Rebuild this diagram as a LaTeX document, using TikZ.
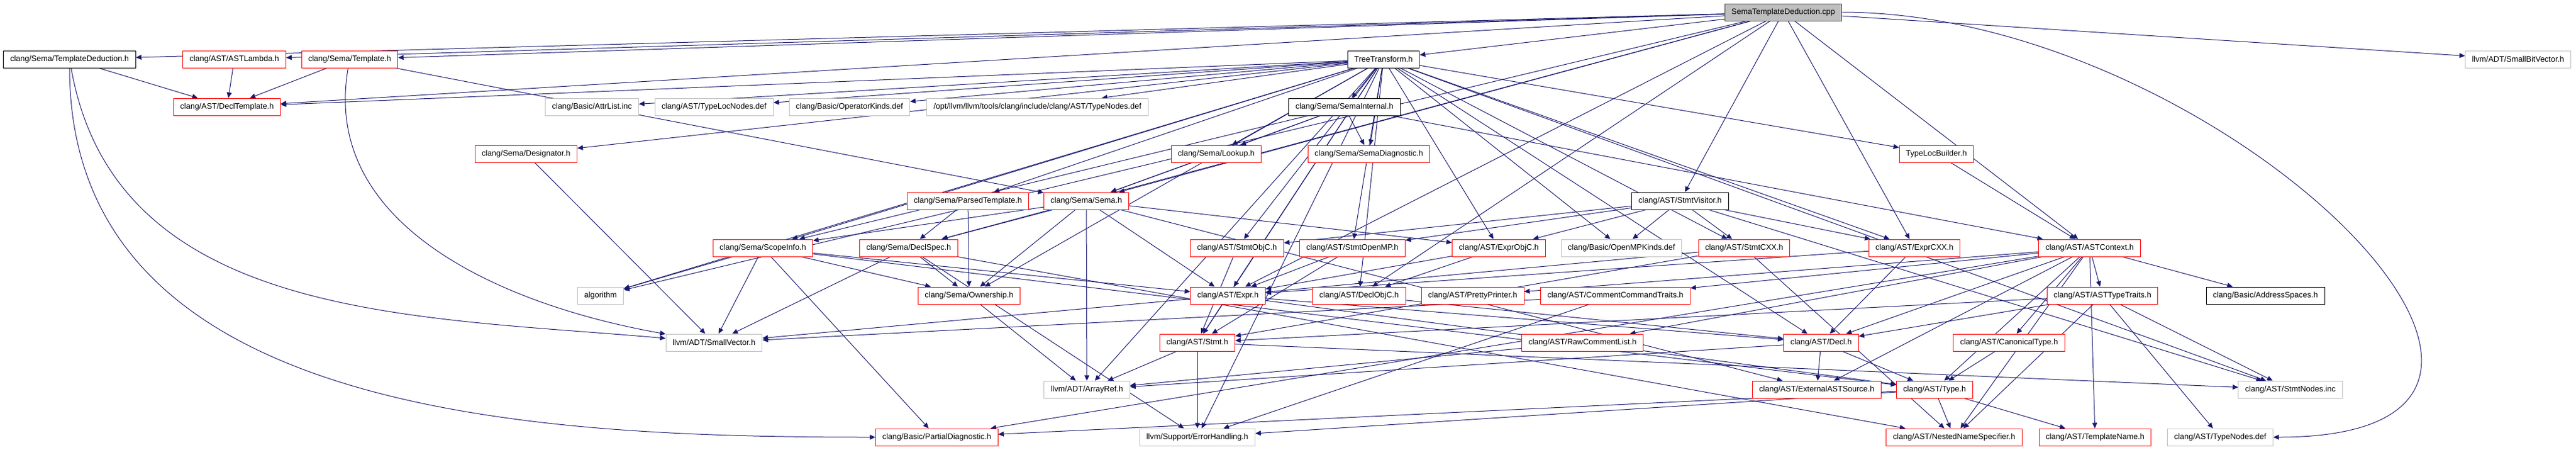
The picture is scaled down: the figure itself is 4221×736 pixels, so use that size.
\documentclass[tikz,border=0pt]{standalone}
\usepackage{fontspec}
\setmainfont{Liberation Sans}
\usepackage{tikz}
\usetikzlibrary{positioning, arrows.meta}
\pgfdeclarelayer{bg}
\pgfsetlayers{bg,main}
\definecolor{edgeblue}{HTML}{191970}
\definecolor{boxgray}{HTML}{BFBFBF}
\definecolor{boxred}{HTML}{FF0000}
\tikzset{
  file/.style={rectangle, draw, fill=white, line width=0.5pt, minimum height=14pt, inner xsep=5.5pt, inner ysep=0pt, font=\fontsize{6.5}{7.8}\selectfont},
  redbox/.style={file, draw=boxred},
  graybox/.style={file, draw=boxgray},
  blackbox/.style={file, draw=black},
  rootbox/.style={file, draw=black!75, fill=boxgray},
  dep/.style={color=edgeblue, line width=0.5pt, -{Triangle[length=4.5pt,width=4pt]}}
}

\begin{document}
\begin{tikzpicture}[x=0.5pt, y=0.5pt]
            \useasboundingbox (0,0) rectangle (4221,-736);
            \node[rootbox] (root) at (2922,-20) {SemaTemplateDeduction.cpp};
            \node[blackbox] (tded) at (114,-97) {clang/Sema/TemplateDeduction.h};
            \node[redbox] (lambda) at (384,-97) {clang/AST/ASTLambda.h};
            \node[redbox] (tmpl) at (573,-97) {clang/Sema/Template.h};
            \node[blackbox] (tt) at (2267,-97) {TreeTransform.h};
            \node[graybox] (sbv) at (4126,-97) {llvm/ADT/SmallBitVector.h};
            \node[redbox] (decltmpl) at (372,-175) {clang/AST/DeclTemplate.h};
            \node[graybox] (attr) at (970,-175) {clang/Basic/AttrList.inc};
            \node[graybox] (tlnodes) at (1170,-175) {clang/AST/TypeLocNodes.def};
            \node[graybox] (opkinds) at (1392,-175) {clang/Basic/OperatorKinds.def};
            \node[graybox] (optnodes) at (1700,-175) {/opt/llvm/llvm/tools/clang/include/clang/AST/TypeNodes.def};
            \node[blackbox] (semaint) at (2203,-175) {clang/Sema/SemaInternal.h};
            \node[redbox] (desig) at (862,-252) {clang/Sema/Designator.h};
            \node[redbox] (lookup) at (1993,-252) {clang/Sema/Lookup.h};
            \node[redbox] (semadiag) at (2243,-252) {clang/Sema/SemaDiagnostic.h};
            \node[redbox] (tlb) at (3173,-252) {TypeLocBuilder.h};
            \node[redbox] (parsed) at (1586,-329) {clang/Sema/ParsedTemplate.h};
            \node[redbox] (sema) at (1780,-329) {clang/Sema/Sema.h};
            \node[blackbox] (visitor) at (2753,-329) {clang/AST/StmtVisitor.h};
            \node[redbox] (scope) at (1250,-406) {clang/Sema/ScopeInfo.h};
            \node[redbox] (declspec) at (1489,-406) {clang/Sema/DeclSpec.h};
            \node[redbox] (stmtobjc) at (2027,-406) {clang/AST/StmtObjC.h};
            \node[redbox] (openmp) at (2216,-406) {clang/AST/StmtOpenMP.h};
            \node[redbox] (exprobjc) at (2456,-406) {clang/AST/ExprObjC.h};
            \node[graybox] (ompkinds) at (2657,-406) {clang/Basic/OpenMPKinds.def};
            \node[redbox] (stmtcxx) at (2858,-406) {clang/AST/StmtCXX.h};
            \node[redbox] (exprcxx) at (3137,-406) {clang/AST/ExprCXX.h};
            \node[redbox] (astctx) at (3424,-406) {clang/AST/ASTContext.h};
            \node[graybox] (algo) at (984,-484) {algorithm};
            \node[redbox] (owner) at (1588,-484) {clang/Sema/Ownership.h};
            \node[redbox] (expr) at (2012,-484) {clang/AST/Expr.h};
            \node[redbox] (declobjc) at (2227,-484) {clang/AST/DeclObjC.h};
            \node[redbox] (pretty) at (2413,-484) {clang/AST/PrettyPrinter.h};
            \node[redbox] (cct) at (2647,-484) {clang/AST/CommentCommandTraits.h};
            \node[redbox] (traits) at (3445,-484) {clang/AST/ASTTypeTraits.h};
            \node[blackbox] (addr) at (3712,-484) {clang/Basic/AddressSpaces.h};
            \node[graybox] (svec) at (1170,-561) {llvm/ADT/SmallVector.h};
            \node[redbox] (stmt) at (1962,-561) {clang/AST/Stmt.h};
            \node[redbox] (raw) at (2593,-561) {clang/AST/RawCommentList.h};
            \node[redbox] (decl) at (2984,-561) {clang/AST/Decl.h};
            \node[redbox] (canon) at (3292,-561) {clang/AST/CanonicalType.h};
            \node[graybox] (aref) at (1781,-638) {llvm/ADT/ArrayRef.h};
            \node[redbox] (ext) at (2977,-638) {clang/AST/ExternalASTSource.h};
            \node[redbox] (type) at (3170,-638) {clang/AST/Type.h};
            \node[graybox] (stmtnodes) at (3753,-638) {clang/AST/StmtNodes.inc};
            \node[redbox] (pdiag) at (1535,-716) {clang/Basic/PartialDiagnostic.h};
            \node[graybox] (err) at (1962,-716) {llvm/Support/ErrorHandling.h};
            \node[redbox] (nns) at (3202,-716) {clang/AST/NestedNameSpecifier.h};
            \node[redbox] (tname) at (3433,-716) {clang/AST/TemplateName.h};
            \node[graybox] (typenodes) at (3638,-716) {clang/AST/TypeNodes.def};

            \begin{pgfonlayer}{bg}
            % SemaTemplateDeduction.cpp
            \draw[dep] (root) -- (tded);
            \draw[dep] (root) -- (lambda);
            \draw[dep] (root) -- (tmpl);
            \draw[dep] (root) -- (decltmpl);
            \draw[dep] (root) -- (tt);
            \draw[dep] (root) -- (sema);
            \draw[dep] (root) -- (declspec);
            \draw[dep] (root) -- (visitor);
            \draw[dep] (root) -- (exprcxx);
            \draw[dep] (root) -- (astctx);
            \draw[dep] (root) -- (expr);
            \draw[dep] (root) -- (declobjc);
            \draw[dep] (root) -- (sbv);
            \draw[dep] (root) -- (algo);
            \draw[dep] (root) to[out=0, in=0, looseness=1.6] (typenodes);
            % top row headers
            \draw[dep] (tded) -- (decltmpl);
            \draw[dep] (tded) to[out=-90, in=180] (pdiag);
            \draw[dep] (tded) to[out=-80, in=175] (svec);
            \draw[dep] (lambda) -- (decltmpl);
            \draw[dep] (tmpl) -- (decltmpl);
            \draw[dep] (tmpl) -- (sema);
            \draw[dep] (tmpl) to[out=-100, in=170] (svec);
            % TreeTransform.h
            \draw[dep] (tt) -- (tlb);
            \draw[dep] (tt) -- (decl);
            \draw[dep] (tt) -- (declobjc);
            \draw[dep] (tt) -- (decltmpl);
            \draw[dep] (tt) -- (expr);
            \draw[dep] (tt) -- (exprcxx);
            \draw[dep] (tt) -- (exprobjc);
            \draw[dep] (tt) -- (stmt);
            \draw[dep] (tt) -- (stmtcxx);
            \draw[dep] (tt) -- (stmtobjc);
            \draw[dep] (tt) -- (openmp);
            \draw[dep] (tt) -- (desig);
            \draw[dep] (tt) -- (lookup);
            \draw[dep] (tt) -- (owner);
            \draw[dep] (tt) -- (parsed);
            \draw[dep] (tt) -- (scope);
            \draw[dep] (tt) -- (semadiag);
            \draw[dep] (tt) -- (semaint);
            \draw[dep] (tt) -- (aref);
            \draw[dep] (tt) -- (err);
            \draw[dep] (tt) -- (algo);
            \draw[dep] (tt) -- (tlnodes);
            \draw[dep] (tt) -- (attr);
            \draw[dep] (tt) -- (opkinds);
            \draw[dep] (tt) -- (optnodes);
            \draw[dep] (tt) -- (ompkinds);
            \draw[dep] (tt) -- (stmtnodes);
            % Sema headers
            \draw[dep] (semaint) -- (astctx);
            \draw[dep] (semaint) -- (lookup);
            \draw[dep] (semaint) -- (scope);
            \draw[dep] (semaint) -- (sema);
            \draw[dep] (semaint) -- (semadiag);
            \draw[dep] (lookup) -- (sema);
            \draw[dep] (desig) -- (svec);
            \draw[dep] (tlb) -- (astctx);
            \draw[dep] (parsed) -- (declspec);
            \draw[dep] (parsed) -- (owner);
            \draw[dep] (sema) -- (scope);
            \draw[dep] (sema) -- (declspec);
            \draw[dep] (sema) -- (owner);
            \draw[dep] (sema) -- (aref);
            \draw[dep] (sema) -- (ext);
            \draw[dep] (sema) -- (expr);
            \draw[dep] (sema) -- (exprobjc);
            \draw[dep] (scope) -- (algo);
            \draw[dep] (scope) -- (svec);
            \draw[dep] (scope) -- (pdiag);
            \draw[dep] (scope) -- (owner);
            \draw[dep] (scope) -- (expr);
            \draw[dep] (scope) -- (type);
            \draw[dep] (declspec) -- (nns);
            \draw[dep] (declspec) -- (owner);
            \draw[dep] (declspec) -- (svec);
            \draw[dep] (declspec) -- (err);
            \draw[dep] (owner) -- (aref);
            % AST headers
            \draw[dep] (visitor) -- (exprcxx);
            \draw[dep] (visitor) -- (exprobjc);
            \draw[dep] (visitor) -- (stmtcxx);
            \draw[dep] (visitor) -- (stmtobjc);
            \draw[dep] (visitor) -- (openmp);
            \draw[dep] (visitor) -- (ompkinds);
            \draw[dep] (visitor) -- (stmtnodes);
            \draw[dep] (stmtobjc) -- (stmt);
            \draw[dep] (openmp) -- (expr);
            \draw[dep] (openmp) -- (stmt);
            \draw[dep] (exprobjc) -- (declobjc);
            \draw[dep] (exprobjc) -- (expr);
            \draw[dep] (stmtcxx) -- (expr);
            \draw[dep] (stmtcxx) -- (nns);
            \draw[dep] (stmtcxx) -- (stmt);
            \draw[dep] (exprcxx) -- (decl);
            \draw[dep] (exprcxx) -- (expr);
            \draw[dep] (astctx) -- (traits);
            \draw[dep] (astctx) -- (canon);
            \draw[dep] (astctx) -- (cct);
            \draw[dep] (astctx) -- (decl);
            \draw[dep] (astctx) -- (ext);
            \draw[dep] (astctx) -- (nns);
            \draw[dep] (astctx) -- (pretty);
            \draw[dep] (astctx) -- (raw);
            \draw[dep] (astctx) -- (tname);
            \draw[dep] (astctx) -- (type);
            \draw[dep] (astctx) -- (addr);
            \draw[dep] (astctx) -- (pdiag);
            \draw[dep] (expr) -- (decl);
            \draw[dep] (expr) -- (stmt);
            \draw[dep] (expr) -- (type);
            \draw[dep] (expr) -- (svec);
            \draw[dep] (declobjc) -- (decl);
            \draw[dep] (cct) -- (svec);
            \draw[dep] (cct) -- (err);
            \draw[dep] (traits) -- (decl);
            \draw[dep] (traits) -- (nns);
            \draw[dep] (traits) -- (stmt);
            \draw[dep] (traits) -- (typenodes);
            \draw[dep] (traits) -- (stmtnodes);
            \draw[dep] (stmt) -- (aref);
            \draw[dep] (stmt) -- (err);
            \draw[dep] (stmt) -- (stmtnodes);
            \draw[dep] (raw) -- (aref);
            \draw[dep] (decl) -- (ext);
            \draw[dep] (decl) -- (type);
            \draw[dep] (decl) -- (aref);
            \draw[dep] (canon) -- (type);
            \draw[dep] (type) -- (nns);
            \draw[dep] (type) -- (tname);
            \draw[dep] (type) -- (pdiag);
            \draw[dep] (type) -- (err);
            \end{pgfonlayer}
        \end{tikzpicture}
\end{document}
